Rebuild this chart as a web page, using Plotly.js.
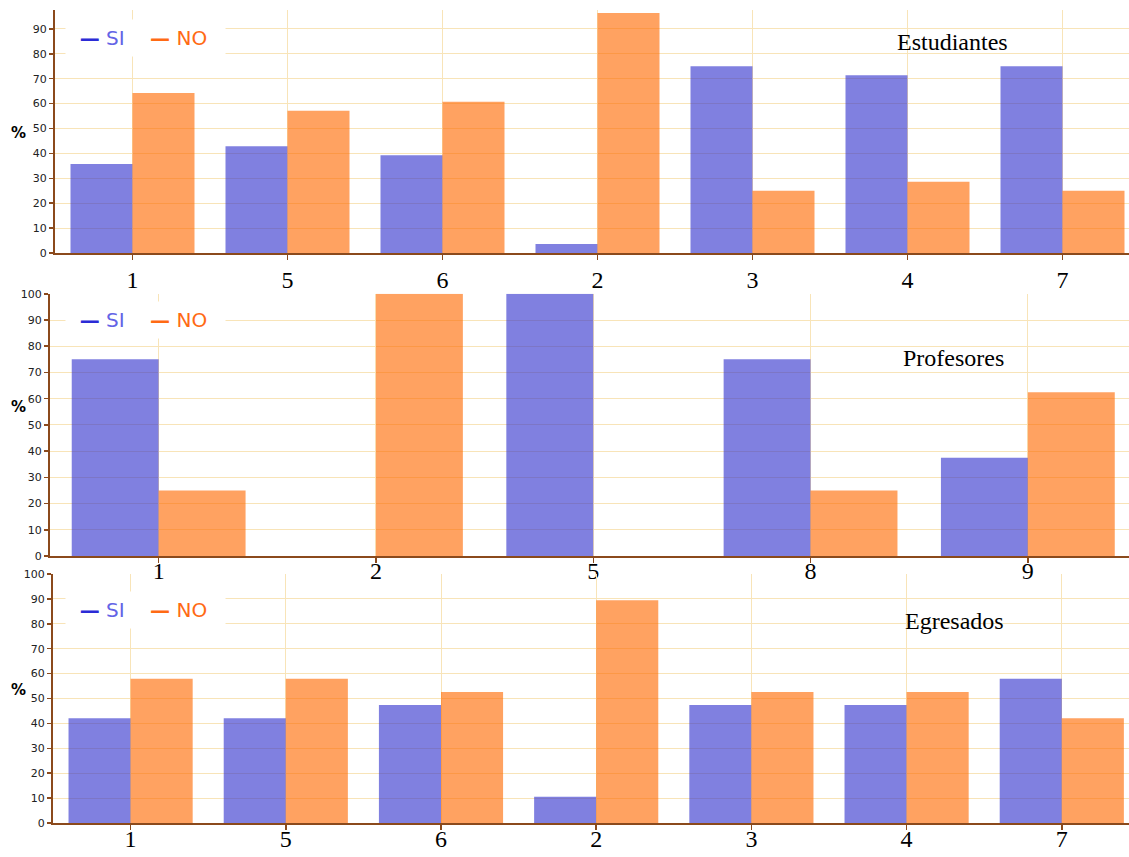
<!DOCTYPE html>
<html>
<head>
<meta charset="utf-8">
<script src="https://cdn.plot.ly/plotly-3.0.1.min.js"></script>
<style>html,body{margin:0;padding:0;background:#fff;}#chart{width:1129px;height:857px;}</style>
</head>
<body>
<div id="chart"></div>
<script>
// ---- Data ----
const catsEst = ['1', '5', '6', '2', '3', '4', '7'];
const siEst   = [35.7, 42.9, 39.3, 3.6, 75, 71.4, 75];
const noEst   = [64.3, 57.1, 60.7, 96.4, 25, 28.6, 25];

const catsProf = ['1', '2', '5', '8', '9'];
const siProf   = [75, 0, 100, 75, 37.5];
const noProf   = [25, 100, 0, 25, 62.5];

const catsEgr = ['1', '5', '6', '2', '3', '4', '7'];
const siEgr   = [42.1, 42.1, 47.4, 10.5, 47.4, 47.4, 57.9];
const noEgr   = [57.9, 57.9, 52.6, 89.5, 52.6, 52.6, 42.1];

const panelTitles = ['Estudiantes', 'Profesores', 'Egresados'];
const seriesNames = ['SI', 'NO'];

// ---- Layout helpers ----
const W = 1129, H = 857, ML = 50, MR = 0, MT = 0, MB = 0;
const PW = W - ML - MR, PH = H - MT - MB;
const px = x => (x - ML) / PW;
const py = y => (H - MB - y) / PH;

const SI_COLOR = 'rgba(50,50,205,0.62)';
const NO_COLOR = 'rgba(255,105,0,0.62)';
const AXIS = '#8b4a1c';
const GRID = '#f8e4b8';

function bars(x, y, name, color, xa, ya) {
  return {type: 'bar', x: x, y: y, name: name, xaxis: xa, yaxis: ya,
          marker: {color: color, line: {width: 0}}, showlegend: false,
          hovertemplate: name + ': %{y}%<extra></extra>'};
}

const data = [
  bars(catsEst, siEst, seriesNames[0], SI_COLOR, 'x', 'y'),
  bars(catsEst, noEst, seriesNames[1], NO_COLOR, 'x', 'y'),
  bars(catsProf, siProf, seriesNames[0], SI_COLOR, 'x2', 'y2'),
  bars(catsProf, noProf, seriesNames[1], NO_COLOR, 'x2', 'y2'),
  bars(catsEgr, siEgr, seriesNames[0], SI_COLOR, 'x3', 'y3'),
  bars(catsEgr, noEgr, seriesNames[1], NO_COLOR, 'x3', 'y3')
];

function xAxis(domain, range, anchor, standoff) {
  return {type: 'category', domain: domain, range: range, anchor: anchor,
          showline: true, linecolor: AXIS, linewidth: 2,
          showgrid: true, gridcolor: GRID, gridwidth: 1,
          ticks: 'outside', ticklen: 5, tickcolor: AXIS, tickwidth: 1.5,
          ticklabelstandoff: standoff,
          tickfont: {family: 'Liberation Serif, Times New Roman, serif', size: 24, color: '#000'},
          zeroline: false, fixedrange: true};
}
function yAxis(domain, range, anchor) {
  return {domain: domain, range: range, anchor: anchor,
          showline: true, linecolor: AXIS, linewidth: 2,
          showgrid: true, gridcolor: GRID, gridwidth: 1,
          ticks: 'outside', ticklen: 4, tickcolor: AXIS, tickwidth: 1.5,
          dtick: 10, tick0: 0,
          tickfont: {family: 'DejaVu Sans, Verdana, sans-serif', size: 11, color: '#222'},
          zeroline: false, fixedrange: true};
}

function legendAnn(xLeft, yCenter) {
  return {xref: 'paper', yref: 'paper', x: px(xLeft), y: py(yCenter),
          xanchor: 'left', yanchor: 'middle', showarrow: false,
          bgcolor: '#ffffff', width: 157, height: 34, align: 'left',
          font: {family: 'DejaVu Sans, Verdana, sans-serif', size: 20},
          text: '&nbsp;&nbsp;<span style="color:#2b2bd6"><b>\u2014</b></span>' +
                '<span style="color:#6464e6"> ' + seriesNames[0] + '</span>' +
                '&nbsp;&nbsp;&nbsp;&nbsp;<span style="color:#ff6a14"><b>\u2014</b> ' + seriesNames[1] + '</span>'};
}
function titleAnn(text, xc, yc) {
  return {xref: 'paper', yref: 'paper', x: px(xc), y: py(yc), xanchor: 'center', yanchor: 'middle',
          showarrow: false, text: text,
          font: {family: 'Liberation Serif, Times New Roman, serif', size: 24, color: '#000'}};
}
function pctAnn(yc) {
  return {xref: 'paper', yref: 'paper', x: px(18), y: py(yc), xanchor: 'center', yanchor: 'middle',
          showarrow: false, text: '<b>%</b>',
          font: {family: 'DejaVu Sans, Verdana, sans-serif', size: 15, color: '#000'}};
}

const layout = {
  width: W, height: H,
  margin: {l: ML, r: MR, t: MT, b: MB},
  paper_bgcolor: '#fff', plot_bgcolor: '#fff',
  barmode: 'group', bargap: 0.2, bargroupgap: 0,
  showlegend: false,
  xaxis:  xAxis([px(55), 1], [-0.5, -0.5 + (W - 55) / 155], 'y', -1),
  yaxis:  yAxis([py(253), py(10)], [0, 97.6], 'x'),
  xaxis2: xAxis([0, 1], [-0.5, -0.5 + (W - 50) / 217.3], 'y2', -13),
  yaxis2: yAxis([py(556), py(293.8)], [0, 100], 'x2'),
  xaxis3: xAxis([px(53), 1], [-0.5, -0.5 + (W - 53) / 155.2], 'y3', -12),
  yaxis3: yAxis([py(823), py(574)], [0, 100], 'x3'),
  annotations: [
    legendAnn(65, 38), legendAnn(65, 320), legendAnn(65, 610),
    titleAnn(panelTitles[0], 952, 42), titleAnn(panelTitles[1], 953, 358), titleAnn(panelTitles[2], 954, 621),
    pctAnn(133), pctAnn(407), pctAnn(690)
  ]
};

Plotly.newPlot('chart', data, layout, {displayModeBar: false, staticPlot: true});
</script>
</body>
</html>
